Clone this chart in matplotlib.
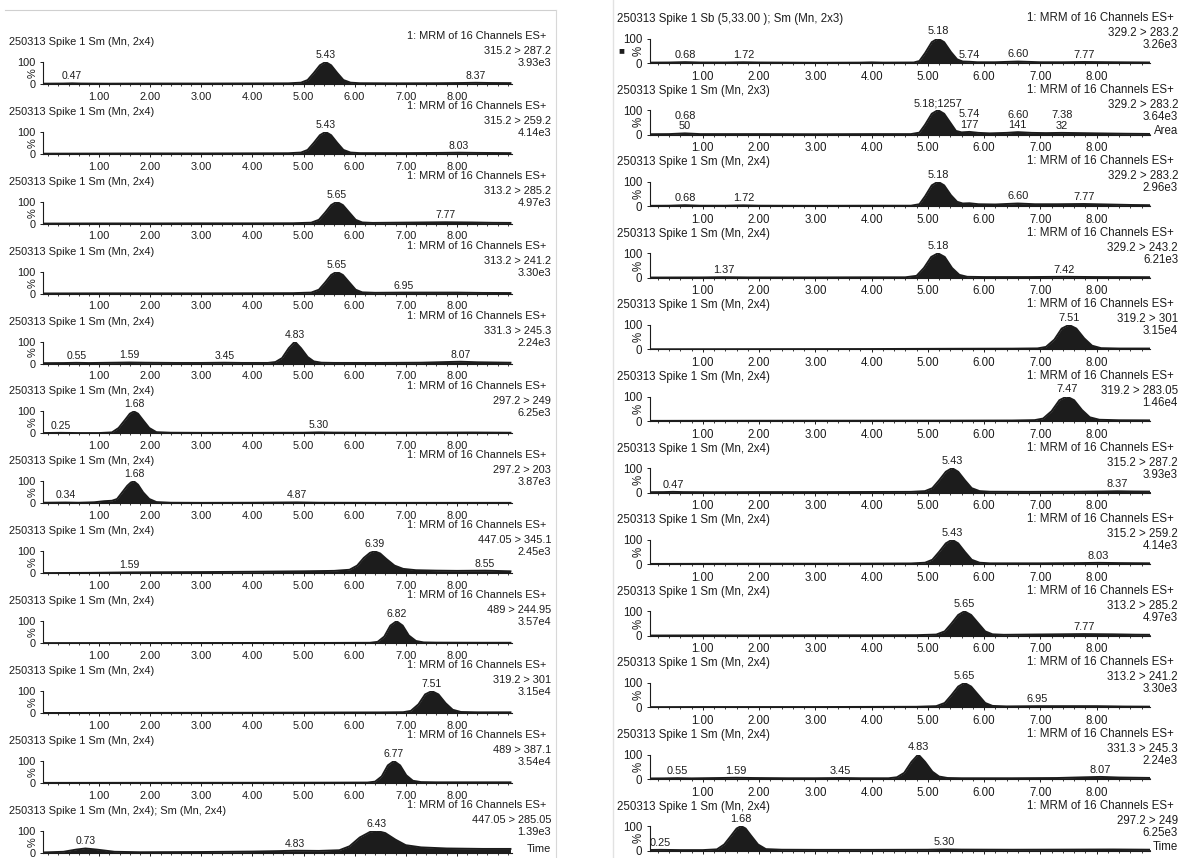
import numpy as np
import matplotlib
matplotlib.use('Agg')
import matplotlib.pyplot as plt
from matplotlib.ticker import MultipleLocator, FixedLocator, FixedFormatter
from matplotlib.lines import Line2D

plt.rcParams['font.family'] = ['Liberation Sans', 'DejaVu Sans']

# ---- chromatogram traces (time in min, intensity in %) ----
# 315.2 > 287.2
t_315_287 = [-0.1, 0.3, 0.47, 0.65, 1.2, 2.0, 3.0, 4.0, 4.7, 4.95, 5.08, 5.2, 5.32, 5.43, 5.54, 5.66, 5.78, 5.92, 6.1, 6.8, 7.6, 8.1, 8.37, 8.65, 9.05]
y_315_287 = [1.5, 2.0, 3.0, 2.0, 1.5, 2.0, 2.0, 2.5, 3.0, 6, 18, 50, 85, 100, 85, 50, 18, 6, 3.5, 3.0, 3.5, 4.5, 5.5, 4.5, 4.0]
pk_315_287 = [0.47, 5.43, 8.37]

# 315.2 > 259.2
t_315_259 = [-0.1, 1.0, 2.0, 3.0, 4.0, 4.7, 4.95, 5.08, 5.2, 5.32, 5.43, 5.54, 5.66, 5.78, 5.92, 6.1, 7.0, 7.7, 8.03, 8.4, 9.05]
y_315_259 = [1.0, 1.5, 2.0, 2.0, 2.5, 3.0, 6, 18, 50, 85, 100, 85, 50, 18, 6, 3.5, 3.5, 4.5, 5.5, 4.5, 3.5]
pk_315_259 = [5.43, 8.03]

# 313.2 > 285.2
t_313_285 = [-0.1, 1.0, 2.0, 3.0, 4.0, 4.8, 5.15, 5.3, 5.42, 5.54, 5.65, 5.77, 5.9, 6.02, 6.15, 6.35, 6.8, 7.3, 7.77, 8.3, 8.7, 9.05]
y_313_285 = [1.0, 1.5, 1.5, 2.0, 2.0, 2.5, 5, 18, 50, 85, 100, 85, 50, 18, 6, 4.0, 5.0, 6.0, 7.0, 6.0, 4.5, 4.0]
pk_313_285 = [5.65, 7.77]

# 313.2 > 241.2
t_313_241 = [-0.1, 1.0, 2.0, 3.0, 4.0, 4.8, 5.15, 5.3, 5.42, 5.54, 5.65, 5.77, 5.9, 6.02, 6.15, 6.4, 6.95, 7.5, 8.0, 8.5, 9.05]
y_313_241 = [1.0, 1.5, 1.5, 1.5, 2.0, 2.5, 5, 18, 50, 85, 100, 85, 50, 18, 6, 4.0, 5.0, 5.0, 5.0, 3.5, 3.0]
pk_313_241 = [5.65, 6.95]

# 331.3 > 245.3
t_331_245 = [-0.1, 0.3, 0.55, 0.8, 1.3, 1.59, 1.9, 2.5, 3.0, 3.45, 3.8, 4.3, 4.45, 4.58, 4.71, 4.83, 4.95, 5.08, 5.2, 5.35, 5.6, 6.5, 7.3, 7.8, 8.07, 8.4, 9.05]
y_331_245 = [2.0, 2.5, 3.5, 2.5, 4.0, 5.0, 4.0, 3.0, 3.0, 4.0, 3.0, 3.0, 7, 25, 70, 100, 70, 30, 10, 4, 3.0, 3.0, 4.0, 7.0, 8.5, 6.0, 4.0]
pk_331_245 = [0.55, 1.59, 3.45, 4.83, 8.07]

# 297.2 > 249
t_297_249 = [-0.1, 0.25, 0.6, 1.0, 1.25, 1.38, 1.5, 1.6, 1.68, 1.76, 1.86, 1.98, 2.12, 2.4, 3.0, 4.0, 5.0, 5.3, 5.6, 6.5, 7.5, 8.3, 9.05]
y_297_249 = [2.0, 3.0, 2.0, 2.0, 5, 25, 60, 90, 100, 90, 60, 25, 6, 3.5, 3.0, 3.0, 3.5, 5.0, 4.0, 3.5, 4.0, 4.5, 3.5]
pk_297_249 = [0.25, 1.68, 5.30]

# 297.2 > 203
t_297_203 = [-0.1, 0.34, 0.6, 0.9, 1.1, 1.25, 1.35, 1.45, 1.55, 1.62, 1.68, 1.76, 1.86, 1.98, 2.12, 2.4, 3.0, 4.0, 4.87, 5.3, 6.5, 7.5, 9.05]
y_297_203 = [3.0, 4.0, 3.0, 5.0, 10, 12, 20, 50, 80, 95, 100, 85, 50, 20, 6, 3.0, 2.5, 3.0, 4.5, 3.0, 2.5, 2.5, 2.5]
pk_297_203 = [0.34, 1.68, 4.87]

# 447.05 > 345.1
t_447_345 = [-0.1, 0.8, 1.59, 2.0, 3.0, 4.0, 5.0, 5.6, 5.9, 6.05, 6.18, 6.3, 6.39, 6.5, 6.62, 6.78, 6.95, 7.2, 7.6, 8.0, 8.55, 9.05]
y_447_345 = [1.0, 2.0, 4.0, 4.5, 5.5, 7.0, 9.0, 11, 16, 35, 70, 93, 100, 90, 65, 35, 20, 14, 12, 11, 12, 9]
pk_447_345 = [1.59, 6.39, 8.55]

# 489 > 244.95
t_489_245 = [-0.1, 2.0, 4.0, 5.5, 6.3, 6.45, 6.58, 6.7, 6.82, 6.94, 7.06, 7.2, 7.35, 7.6, 8.5, 9.05]
y_489_245 = [0.5, 0.8, 1.0, 1.2, 1.8, 6, 30, 80, 100, 80, 35, 10, 3.5, 2.5, 2.0, 2.0]
pk_489_245 = [6.82]

# 319.2 > 301
t_319_301 = [-0.1, 2.0, 4.0, 5.5, 6.5, 6.95, 7.1, 7.25, 7.38, 7.51, 7.64, 7.78, 7.92, 8.08, 8.4, 9.05]
y_319_301 = [0.5, 1.0, 1.5, 2.5, 3.0, 4.0, 10, 40, 85, 100, 85, 45, 15, 5, 3.5, 3.5]
pk_319_301 = [7.51]

# 489 > 387.1
t_489_387 = [-0.1, 2.0, 4.0, 5.5, 6.25, 6.4, 6.53, 6.65, 6.77, 6.89, 7.01, 7.14, 7.3, 7.6, 8.5, 9.05]
y_489_387 = [0.5, 0.8, 1.0, 1.5, 2.0, 6, 30, 80, 100, 80, 35, 10, 4, 3.0, 3.0, 3.0]
pk_489_387 = [6.77]

# 447.05 > 285.05
t_447_285 = [-0.1, 0.3, 0.55, 0.73, 0.95, 1.3, 1.8, 3.0, 4.0, 4.5, 4.83, 5.3, 5.7, 5.9, 6.1, 6.3, 6.43, 6.6, 6.8, 7.0, 7.3, 7.8, 8.5, 9.05]
y_447_285 = [2.0, 5.0, 15, 20, 15, 5.0, 3.0, 4.0, 6.0, 8.0, 10, 9.0, 12, 30, 70, 95, 100, 90, 60, 35, 25, 20, 18, 18]
pk_447_285 = [0.73, 4.83, 6.43]

# 329.2 > 283.2 (Sb smoothed)
t_329_283a = [0.0, 0.4, 0.68, 0.95, 1.4, 1.72, 2.0, 3.0, 3.8, 4.0, 4.2, 4.75, 4.85, 4.95, 5.07, 5.18, 5.29, 5.41, 5.52, 5.62, 5.74, 5.88, 6.2, 6.6, 7.0, 7.4, 7.77, 8.3, 9.0]
y_329_283a = [1.5, 2.0, 3.5, 2.0, 2.0, 3.0, 2.0, 1.0, 1.5, 2.5, 1.5, 2.0, 8, 40, 85, 100, 85, 45, 15, 6, 5.0, 3.0, 3.0, 6.0, 3.0, 3.0, 4.0, 3.0, 2.0]
pk_329_283a = [0.68, 1.72, 5.18, 5.74, 6.60, 7.77]

# 329.2 > 283.2 (area integrated)
t_329_283b = [0.0, 0.4, 0.68, 0.95, 1.5, 2.0, 3.0, 4.0, 4.7, 4.85, 4.95, 5.07, 5.18, 5.29, 5.41, 5.5, 5.6, 5.74, 5.9, 6.1, 6.4, 6.6, 6.85, 7.1, 7.38, 7.7, 8.0, 8.5, 9.0]
y_329_283b = [1.5, 2.0, 5.0, 2.0, 2.0, 2.0, 1.5, 2.0, 2.0, 8, 40, 85, 100, 85, 45, 15, 9, 11, 7, 5, 7, 10, 7, 6, 7, 6, 5, 3.5, 2.5]
pk_329_283b = [0.68, 5.18, 5.74, 6.60, 7.38]
area_329_283b = ['0.68\n50', '5.18;1257', '5.74\n177', '6.60\n141', '7.38\n32']

# 329.2 > 283.2 (2x4)
t_329_283c = [0.0, 0.4, 0.68, 0.95, 1.4, 1.72, 2.0, 3.0, 4.0, 4.7, 4.85, 4.95, 5.07, 5.18, 5.29, 5.41, 5.52, 5.62, 5.74, 5.9, 6.2, 6.6, 6.9, 7.3, 7.77, 8.2, 8.6, 9.0]
y_329_283c = [1.5, 2.0, 4.0, 2.0, 2.0, 3.5, 2.0, 1.5, 2.0, 2.0, 8, 40, 85, 100, 85, 45, 18, 11, 12, 8, 7, 11, 8, 8, 9, 7, 5, 4]
pk_329_283c = [0.68, 1.72, 5.18, 6.60, 7.77]

# 329.2 > 243.2
t_329_243 = [0.0, 1.0, 1.37, 1.8, 3.0, 4.0, 4.6, 4.8, 4.93, 5.06, 5.18, 5.3, 5.43, 5.56, 5.7, 6.0, 6.8, 7.42, 8.0, 9.0]
y_329_243 = [1.0, 1.5, 2.5, 1.5, 1.5, 2.0, 2.0, 8, 40, 85, 100, 85, 40, 12, 4, 3.0, 3.0, 4.0, 3.0, 2.5]
pk_329_243 = [1.37, 5.18, 7.42]

# 319.2 > 283.05
t_319_283 = [0.0, 2.0, 4.0, 5.5, 6.5, 6.9, 7.05, 7.2, 7.34, 7.47, 7.6, 7.74, 7.88, 8.05, 8.4, 9.0]
y_319_283 = [0.5, 1.0, 1.2, 1.5, 2.0, 3.5, 10, 40, 85, 100, 85, 45, 15, 5, 3.0, 2.5]
pk_319_283 = [7.47]

title_std = '250313 Spike 1 Sm (Mn, 2x4)'
mrm = '1: MRM of 16 Channels ES+'
tick_vals = [1, 2, 3, 4, 5, 6, 7, 8]

left_panels = [
    (title_std, '315.2 > 287.2', '3.93e3', '', t_315_287, y_315_287, pk_315_287, None),
    (title_std, '315.2 > 259.2', '4.14e3', '', t_315_259, y_315_259, pk_315_259, None),
    (title_std, '313.2 > 285.2', '4.97e3', '', t_313_285, y_313_285, pk_313_285, None),
    (title_std, '313.2 > 241.2', '3.30e3', '', t_313_241, y_313_241, pk_313_241, None),
    (title_std, '331.3 > 245.3', '2.24e3', '', t_331_245, y_331_245, pk_331_245, None),
    (title_std, '297.2 > 249', '6.25e3', '', t_297_249, y_297_249, pk_297_249, None),
    (title_std, '297.2 > 203', '3.87e3', '', t_297_203, y_297_203, pk_297_203, None),
    (title_std, '447.05 > 345.1', '2.45e3', '', t_447_345, y_447_345, pk_447_345, None),
    (title_std, '489 > 244.95', '3.57e4', '', t_489_245, y_489_245, pk_489_245, None),
    (title_std, '319.2 > 301', '3.15e4', '', t_319_301, y_319_301, pk_319_301, None),
    (title_std, '489 > 387.1', '3.54e4', '', t_489_387, y_489_387, pk_489_387, None),
    ('250313 Spike 1 Sm (Mn, 2x4); Sm (Mn, 2x4)', '447.05 > 285.05', '1.39e3', 'Time',
     t_447_285, y_447_285, pk_447_285, None),
]

right_panels = [
    ('250313 Spike 1 Sb (5,33.00 ); Sm (Mn, 2x3)', '329.2 > 283.2', '3.26e3', '',
     t_329_283a, y_329_283a, pk_329_283a, None),
    ('250313 Spike 1 Sm (Mn, 2x3)', '329.2 > 283.2', '3.64e3', 'Area',
     t_329_283b, y_329_283b, pk_329_283b, area_329_283b),
    (title_std, '329.2 > 283.2', '2.96e3', '', t_329_283c, y_329_283c, pk_329_283c, None),
    (title_std, '329.2 > 243.2', '6.21e3', '', t_329_243, y_329_243, pk_329_243, None),
    (title_std, '319.2 > 301', '3.15e4', '', t_319_301, y_319_301, pk_319_301, None),
    (title_std, '319.2 > 283.05', '1.46e4', '', t_319_283, y_319_283, pk_319_283, None),
    (title_std, '315.2 > 287.2', '3.93e3', '', t_315_287, y_315_287, pk_315_287, None),
    (title_std, '315.2 > 259.2', '4.14e3', '', t_315_259, y_315_259, pk_315_259, None),
    (title_std, '313.2 > 285.2', '4.97e3', '', t_313_285, y_313_285, pk_313_285, None),
    (title_std, '313.2 > 241.2', '3.30e3', '', t_313_241, y_313_241, pk_313_241, None),
    (title_std, '331.3 > 245.3', '2.24e3', '', t_331_245, y_331_245, pk_331_245, None),
    (title_std, '297.2 > 249', '6.25e3', 'Time', t_297_249, y_297_249, pk_297_249, None),
]

W, H = 1179, 858
ink = '#1c1c1c'
fig = plt.figure(figsize=(W / 100, H / 100), dpi=100)

# column geometry in pixels (scanned pages, right one printed a bit larger)
left_col = dict(x0=43, x1=512, xlim=(-0.1, 9.08), base0=84, pitch=69.9, h=22, fs=7.9,
                title_x=9, right_x=551, mrm_dx=5, dy=(42, 48, 33, 21))
right_col = dict(x0=650, x1=1150, xlim=(0.06, 8.95), base0=63, pitch=71.6, h=24.5, fs=8.3,
                 title_x=617, right_x=1178, mrm_dx=4, dy=(44, 45, 30, 18))


def ftext(x, y, s, **kw):
    fig.text(x / W, 1 - y / H, s, color=ink, va='center', **kw)


def draw_column(col, panels):
    fs = col['fs']
    last = len(panels) - 1
    for k, (title, chan, inten, extra, t, y, peaks, labs) in enumerate(panels):
        b = col['base0'] + col['pitch'] * k
        ax = fig.add_axes([col['x0'] / W, 1 - b / H, (col['x1'] - col['x0']) / W, col['h'] / H])
        ax.patch.set_alpha(0)
        ax.fill_between(t, 0, y, color=ink, lw=0)
        ax.plot(t, y, color=ink, lw=1.4)
        ax.set_xlim(col['xlim'])
        ax.set_ylim(0, 100)
        for s in ['top', 'right']:
            ax.spines[s].set_visible(False)
        for s in ['left', 'bottom']:
            ax.spines[s].set_color(ink)
            ax.spines[s].set_linewidth(0.8)
        ax.yaxis.set_major_locator(FixedLocator([0, 100]))
        ax.yaxis.set_major_formatter(FixedFormatter(['0', '100']))
        ax.xaxis.set_major_locator(FixedLocator(tick_vals))
        ax.xaxis.set_major_formatter(FixedFormatter([f'{v:.2f}' for v in tick_vals]))
        ax.xaxis.set_minor_locator(MultipleLocator(0.2))
        ax.tick_params(which='major', direction='out', length=2.5, width=0.7,
                       labelsize=fs, pad=3, colors=ink)
        ax.tick_params(which='minor', direction='out', length=1.5, width=0.6, colors=ink)
        if k == last:
            # the page ends right under the last trace
            ax.tick_params(axis='x', labelbottom=False)
        ax.text(-0.022, 0.5, '%', transform=ax.transAxes, rotation=90, ha='center',
                va='center', fontsize=fs, color=ink)

        # retention time labels above each peak
        for i, p in enumerate(peaks):
            txt = labs[i] if labs else f'{p:.2f}'
            ax.annotate(txt, (p, np.interp(p, t, y)), xytext=(0, 1.5),
                        textcoords='offset points', ha='center', va='bottom',
                        fontsize=fs - 0.4, color=ink, annotation_clip=False,
                        linespacing=1.05)

        d_title, d_mrm, d_chan, d_int = col['dy']
        ftext(col['title_x'], b - d_title, title, fontsize=fs, ha='left')
        ftext(col['right_x'] - col['mrm_dx'], b - d_mrm, mrm, fontsize=fs, ha='right')
        ftext(col['right_x'], b - d_chan, chan, fontsize=fs, ha='right')
        ftext(col['right_x'], b - d_int, inten, fontsize=fs, ha='right')
        if extra:
            ftext(col['right_x'], b - 4, extra, fontsize=fs, ha='right')


draw_column(left_col, left_panels)
draw_column(right_col, right_panels)

# marker square beside the first right trace
ftext(621, 50, '\u25a0', fontsize=7, ha='center')

# faint edges of the scanned printouts
fig.add_artist(Line2D([5 / W, 556 / W], [1 - 10 / H, 1 - 10 / H], color='#d0d0d0', lw=0.8))
fig.add_artist(Line2D([556 / W, 556 / W], [1 - 10 / H, 0], color='#d8d8d8', lw=0.8))
fig.add_artist(Line2D([613 / W, 613 / W], [1, 0], color='#e2e2e2', lw=1.0))

fig.savefig('out.png', dpi=100)
